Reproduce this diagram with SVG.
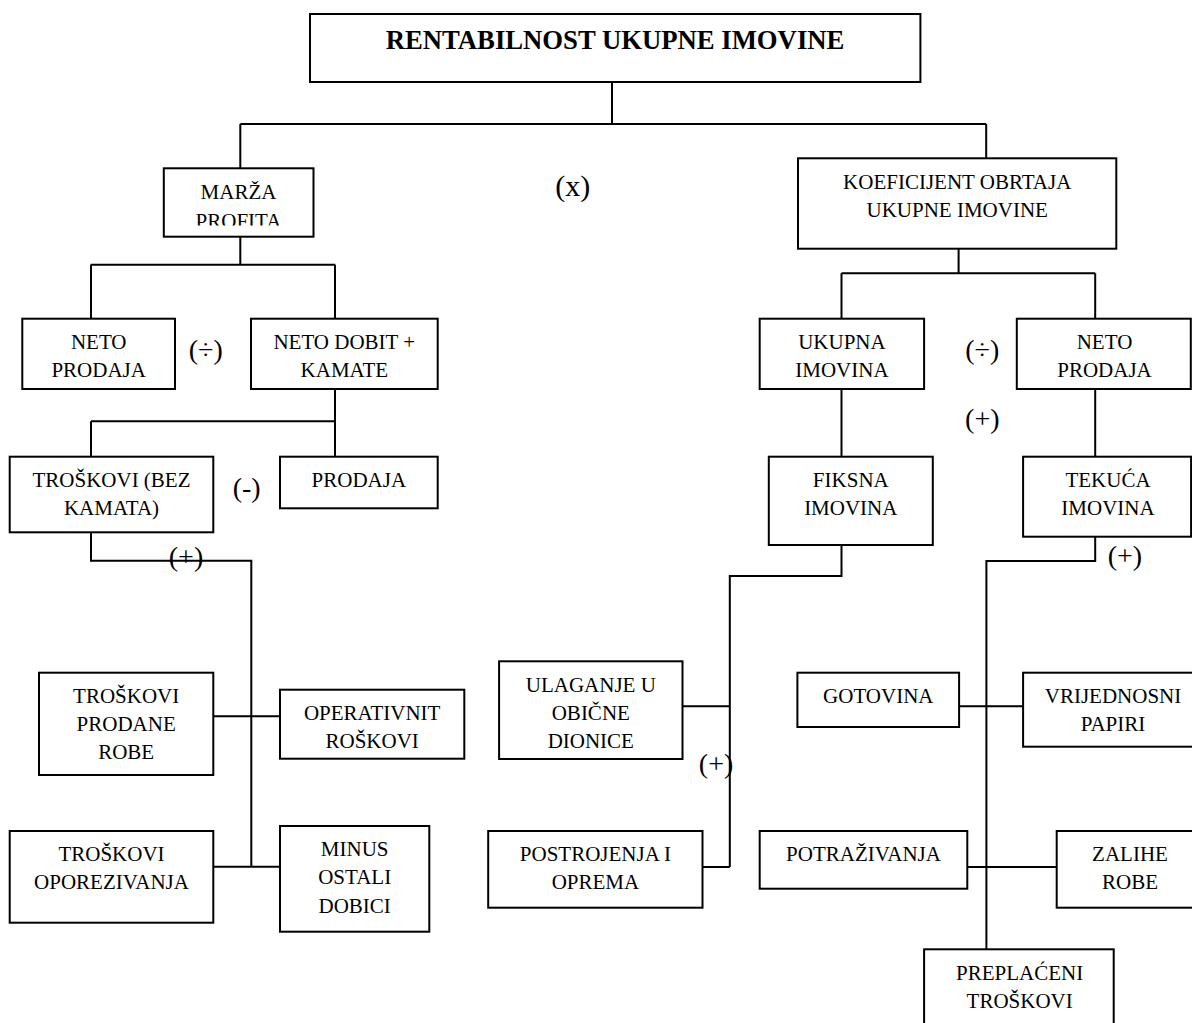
<svg xmlns="http://www.w3.org/2000/svg" width="1192" height="1023" viewBox="0 0 1192 1023">
<defs>
<style>
.box{fill:#fff;stroke:#000;stroke-width:2}
text{font-family:'Liberation Serif','Times New Roman',Times,serif;fill:#000;text-anchor:middle}
.t{font-size:21px}
.title{font-size:26.7px;font-weight:bold}
.op{font-size:28px}
.c{fill:none;stroke:#000;stroke-width:2}
</style>
<clipPath id="clipMarza"><rect x="163" y="168" width="151" height="57.5"/></clipPath>
</defs>
<rect width="1192" height="1023" fill="#fff"/>
<g id="connectors" class="c">
<path d="M612,82 V124 M240.3,124 H986.2 M240.3,124 V168.3 M986.2,124 V158.3"/>
<path d="M240.3,236.7 V264.7 M90.7,264.7 H335.2 M91,264.7 V318.7 M335,264.7 V318.7"/>
<path d="M958.6,248.7 V273.3 M841.5,273.3 H1095.2 M841.5,273.3 V318.7 M1095.2,273.3 V318.7"/>
<path d="M335,389 V456.7 M91,421.3 H335 M91,421.3 V456.7"/>
<path d="M91,532.3 V560.7 H251.3 V866.7 M213.3,716.3 H280 M213.3,866.7 H280"/>
<path d="M841.5,389 V456.7 M1095.2,389 V456.7"/>
<path d="M841.5,545 V576 H729.8 V867 M682.5,706.3 H729.8 M702.5,867 H729.8"/>
<path d="M1095.2,536.7 V561 H986.4 V949.3 M959.1,706.3 H1023.1 M967.3,867 H1056.7"/>
</g>
<g id="title"><rect class="box" x="310" y="14" width="610.4" height="68"/><text class="title" x="615" y="49.3">RENTABILNOST UKUPNE IMOVINE</text></g>
<g id="marza"><rect class="box" x="163.8" y="168.3" width="149.7" height="68.4"/><g clip-path="url(#clipMarza)"><text class="t" x="238.5" y="199.3">MARŽA</text><text class="t" x="238.5" y="227.8">PROFITA</text></g></g>
<g id="koeficijent"><rect class="box" x="798" y="158.3" width="318.3" height="90.4"/><text class="t" x="957.2" y="189">KOEFICIJENT OBRTAJA</text><text class="t" x="957.2" y="216.7">UKUPNE IMOVINE</text></g>
<g id="neto-prodaja-l"><rect class="box" x="22.3" y="318.7" width="152.7" height="70.3"/><text class="t" x="98.7" y="349.3">NETO</text><text class="t" x="98.7" y="377.3">PRODAJA</text></g>
<g id="neto-dobit"><rect class="box" x="251" y="318.7" width="186.7" height="70.3"/><text class="t" x="344.3" y="349.3">NETO DOBIT +</text><text class="t" x="344.3" y="377.3">KAMATE</text></g>
<g id="ukupna-imovina"><rect class="box" x="759.7" y="318.7" width="164.4" height="70.3"/><text class="t" x="841.9" y="349.3">UKUPNA</text><text class="t" x="841.9" y="377.3">IMOVINA</text></g>
<g id="neto-prodaja-r"><rect class="box" x="1016.8" y="318.7" width="174" height="70.3"/><text class="t" x="1104.5" y="349.3">NETO</text><text class="t" x="1104.5" y="377.3">PRODAJA</text></g>
<g id="troskovi-bez-kamata"><rect class="box" x="9.7" y="456.7" width="203.6" height="75.6"/><text class="t" x="111.5" y="486.7">TROŠKOVI (BEZ</text><text class="t" x="111.5" y="515">KAMATA)</text></g>
<g id="prodaja"><rect class="box" x="280" y="456.7" width="157.7" height="51.6"/><text class="t" x="358.8" y="486.7">PRODAJA</text></g>
<g id="fiksna-imovina"><rect class="box" x="768.8" y="456.7" width="164" height="88.3"/><text class="t" x="850.8" y="486.7">FIKSNA</text><text class="t" x="850.8" y="515">IMOVINA</text></g>
<g id="tekuca-imovina"><rect class="box" x="1023.1" y="456.7" width="168" height="80"/><text class="t" x="1108" y="486.7">TEKUĆA</text><text class="t" x="1108" y="515">IMOVINA</text></g>
<g id="troskovi-prodane-robe"><rect class="box" x="39" y="672.7" width="174.3" height="102.3"/><text class="t" x="126.2" y="703.3">TROŠKOVI</text><text class="t" x="126.2" y="731">PRODANE</text><text class="t" x="126.2" y="759.3">ROBE</text></g>
<g id="operativni-troskovi"><rect class="box" x="280" y="689.7" width="184.3" height="69"/><text class="t" x="372.2" y="720">OPERATIVNIT</text><text class="t" x="372.2" y="747.7">ROŠKOVI</text></g>
<g id="troskovi-oporezivanja"><rect class="box" x="9.7" y="831" width="203.6" height="91.7"/><text class="t" x="111.5" y="861">TROŠKOVI</text><text class="t" x="111.5" y="889.3">OPOREZIVANJA</text></g>
<g id="minus-ostali-dobici"><rect class="box" x="280" y="826" width="149.3" height="105.7"/><text class="t" x="354.7" y="856">MINUS</text><text class="t" x="354.7" y="884.3">OSTALI</text><text class="t" x="354.7" y="912.7">DOBICI</text></g>
<g id="ulaganje"><rect class="box" x="499.1" y="661.3" width="183.4" height="97.7"/><text class="t" x="590.8" y="692.3">ULAGANJE U</text><text class="t" x="590.8" y="720">OBIČNE</text><text class="t" x="590.8" y="747.7">DIONICE</text></g>
<g id="postrojenja"><rect class="box" x="488.2" y="831" width="214.3" height="76.7"/><text class="t" x="595.4" y="861">POSTROJENJA I</text><text class="t" x="595.4" y="889.3">OPREMA</text></g>
<g id="gotovina"><rect class="box" x="797.4" y="672.7" width="161.7" height="54.3"/><text class="t" x="878.3" y="703.3">GOTOVINA</text></g>
<g id="vrijednosni-papiri"><rect class="box" x="1023.1" y="672.7" width="180" height="74"/><text class="t" x="1113" y="703.3">VRIJEDNOSNI</text><text class="t" x="1113" y="731">PAPIRI</text></g>
<g id="potrazivanja"><rect class="box" x="759.7" y="831" width="207.6" height="57.7"/><text class="t" x="863.5" y="861">POTRAŽIVANJA</text></g>
<g id="zalihe-robe"><rect class="box" x="1056.7" y="831" width="147" height="76.7"/><text class="t" x="1130" y="861">ZALIHE</text><text class="t" x="1130" y="889.3">ROBE</text></g>
<g id="preplaceni-troskovi"><rect class="box" x="924.1" y="949.3" width="189.6" height="100"/><text class="t" x="1019.7" y="980">PREPLAĆENI</text><text class="t" x="1019.7" y="1008.3">TROŠKOVI</text></g>
<g id="operators">
<text class="op" x="572.7" y="196" style="font-size:30px">(x)</text>
<text class="op" x="205.7" y="359">(÷)</text>
<text class="op" x="982.3" y="359">(÷)</text>
<text class="op" x="982.3" y="428.4">(+)</text>
<text class="op" x="246.7" y="497">(-)</text>
<text class="op" x="186" y="566">(+)</text>
<text class="op" x="1124.9" y="565">(+)</text>
<text class="op" x="716.1" y="773">(+)</text>
</g>
</svg>
